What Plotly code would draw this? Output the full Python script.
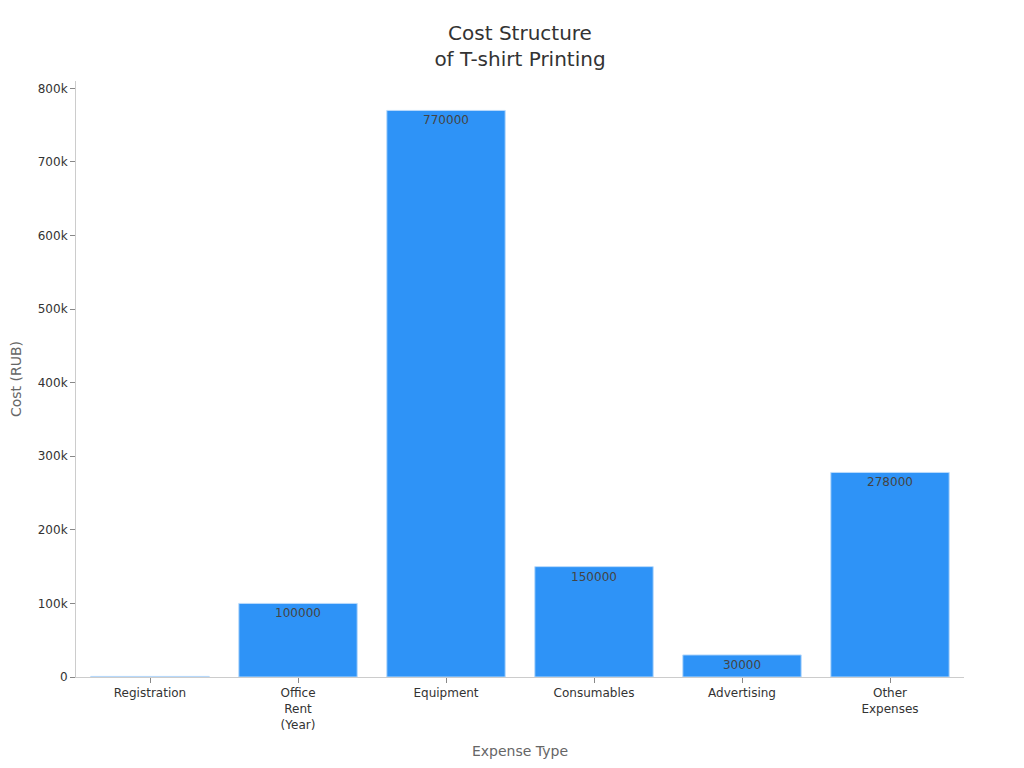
import plotly.graph_objects as go

categories = ['Registration', 'Office<br>Rent<br>(Year)', 'Equipment',
              'Consumables', 'Advertising', 'Other<br>Expenses']
costs = [800, 100000, 770000, 150000, 30000, 278000]

fig = go.Figure(data=[
    go.Bar(
        x=categories,
        y=costs,
        text=costs,
        textposition='inside',
        insidetextanchor='end',
        textfont=dict(color='#444444', size=12),
        marker=dict(color='#2e93f7', line=dict(color='#b9dafb', width=1)),
    ),
])
fig.update_layout(
    title=dict(text='Cost Structure<br>of T-shirt Printing', x=0.5, xanchor='center',
               y=0.958, font=dict(size=20, color='#333333')),
    font=dict(family='DejaVu Sans', size=12, color='#333333'),
    plot_bgcolor='white',
    paper_bgcolor='white',
    width=1024,
    height=768,
    margin=dict(l=68, r=68, t=73, b=99),
    bargap=0.2,
    showlegend=False,
    xaxis=dict(
        title=dict(text='Expense Type', font=dict(size=14, color='#666666'), standoff=15),
        showline=True, linecolor='#cccccc', ticks='outside', tickcolor='#888888',
        ticklen=5, showgrid=False, tickfont=dict(size=12), automargin=False,
    ),
    yaxis=dict(
        title=dict(text='Cost (RUB)', font=dict(size=14, color='#666666')),
        range=[0, 810000], showline=True, linecolor='#cccccc', ticks='outside',
        tickcolor='#888888', ticklen=5, showgrid=False, zeroline=False,
        tickformat='~s', tickfont=dict(size=12), automargin=False,
    ),
)
fig.write_html("out.html")
